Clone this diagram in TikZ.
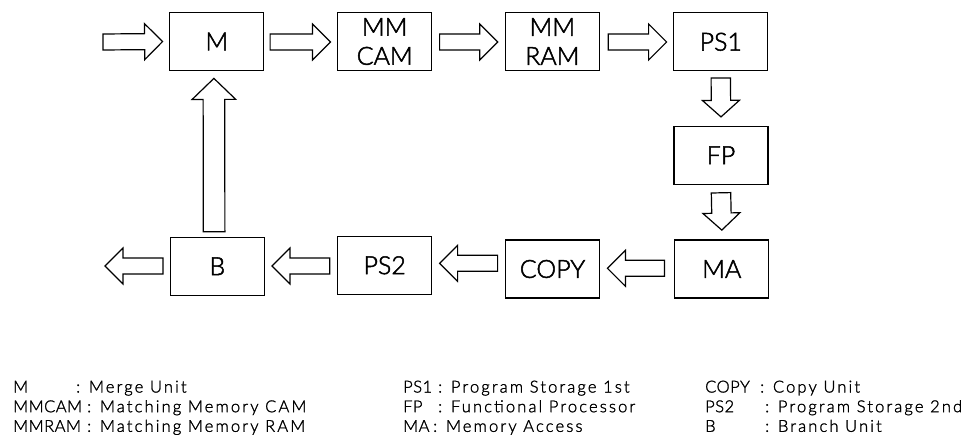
\documentclass[tikz,border=0pt]{standalone}
\usepackage{fontspec}
\setmainfont{Lato Light}[FakeBold=2]
\newfontfamily\legendfont[LetterSpace=13,FakeBold=1.5]{Lato Light}
\newfontfamily\abbrfont[LetterSpace=3,FakeBold=1.5]{Lato Light}
\usetikzlibrary{calc}

% hollow block arrow: #1 tail, #2 tip, #3 shaft half-width, #4 head half-width, #5 head length
\newcommand\fatarrow[5]{%
  \coordinate (fa-base) at ($(#2)!#5!(#1)$);
  \draw[fatline]
    ($(#1)!#3!90:(#2)$) -- ($(fa-base)!#3!90:(#2)$) -- ($(fa-base)!#4!90:(#2)$) --
    (#2) --
    ($(fa-base)!#4!-90:(#2)$) -- ($(fa-base)!#3!-90:(#2)$) -- ($(#1)!#3!-90:(#2)$) -- cycle;
}

\begin{document}
\begin{tikzpicture}[x=1pt, y=-1pt,
  unit/.style={draw, line width=1.2pt, minimum width=94pt, minimum height=58pt,
    inner sep=0pt, align=center, font=\fontsize{25}{29}\selectfont},
  fatline/.style={draw, fill=white, line width=1.2pt, line join=miter},
  legend/.style={anchor=base west, inner sep=0pt, font=\fontsize{16.5}{19}\legendfont},
  abbr/.style={legend, font=\fontsize{16.5}{19}\abbrfont}]

\useasboundingbox (0,0) rectangle (970,441);

% processing units
\node[unit] (M)     at (216.8, 41.5) {M};
\node[unit] (MMCAM) at (384.7, 41.5) {MM\\CAM};
\node[unit] (MMRAM) at (552.3, 41.5) {MM\\RAM};
\node[unit] (PS1)   at (720.8, 41.8) {PS1};
\node[unit] (FP)    at (721.0,155.2) {FP};
\node[unit] (MA)    at (721.8,269.0) {MA};
\node[unit] (COPY)  at (552.5,269.0) {COPY};
\node[unit] (PS2)   at (384.7,265.3) {PS2};
\node[unit] (B)     at (217.3,266.3) {B};

% free ends of the ring
\coordinate (in)  at (103,42);
\coordinate (out) at (105,266);

% top row, left to right
\fatarrow{in}{$(M.west)+(-6.6,0)$}{8pt}{18pt}{18pt}
\fatarrow{$(M.east)+(5.7,0.5)$}{$(MMCAM.west)+(-6.6,0.5)$}{8pt}{18pt}{18pt}
\fatarrow{$(MMCAM.east)+(7.3,0.5)$}{$(MMRAM.west)+(-7,0.5)$}{8pt}{18pt}{18pt}
\fatarrow{$(MMRAM.east)+(8.4,0.5)$}{$(PS1.west)+(-6.6,0.2)$}{8pt}{18pt}{18pt}

% right column, downwards
\fatarrow{$(PS1.south)+(0,6.6)$}{$(FP.north)+(0,-8.7)$}{9.7pt}{18.5pt}{16.5pt}
\fatarrow{$(FP.south)+(0,8)$}{$(MA.north)+(0,-9.3)$}{9.7pt}{18.5pt}{17pt}

% bottom row, right to left
\fatarrow{$(MA.west)+(-9.7,-0.7)$}{$(COPY.east)+(7.3,-0.7)$}{8pt}{18pt}{18pt}
\fatarrow{$(COPY.west)+(-7.3,-5.7)$}{$(PS2.east)+(7.3,-2)$}{8pt}{18pt}{18pt}
\fatarrow{$(PS2.west)+(-7.3,0.7)$}{$(B.east)+(7,-0.3)$}{8pt}{18pt}{18pt}
\fatarrow{$(B.west)+(-6.7,-0.3)$}{out}{8pt}{18pt}{18pt}

% feedback from B up to M
\fatarrow{$(B.north)+(-3.2,-5)$}{$(M.south)+(-2.9,7.3)$}{10.8pt}{21.8pt}{21pt}

% legend
\node[abbr]   (l1a) at (13,392.5) {M};
\node[legend] (l1b) at (76,392.5) {: Merge Unit};
\node[abbr]   (l2a) at (13,412.2) {MMCAM};
\node[legend] (l2b) at (87,412.2) {: Matching Memory CAM};
\node[abbr]   (l3a) at (13,431.8) {MMRAM};
\node[legend] (l3b) at (87,431.8) {: Matching Memory RAM};

\node[abbr]   (l4a) at (403,392.5) {PS1};
\node[legend] (l4b) at (438,392.5) {: Program Storage 1st};
\node[abbr]   (l5a) at (403,412.2) {FP};
\node[legend] (l5b) at (438,412.2) {: Functional Processor};
\node[abbr]   (l6a) at (403,431.8) {MA};
\node[legend] (l6b) at (433,431.8) {: Memory Access};

\node[abbr]   (l7a) at (705,392.5) {COPY};
\node[legend] (l7b) at (760,392.5) {: Copy Unit};
\node[abbr]   (l8a) at (705,412.2) {PS2};
\node[legend] (l8b) at (765,412.2) {: Program Storage 2nd};
\node[abbr]   (l9a) at (705,431.8) {B};
\node[legend] (l9b) at (765,431.8) {: Branch Unit};
\end{tikzpicture}
\end{document}
